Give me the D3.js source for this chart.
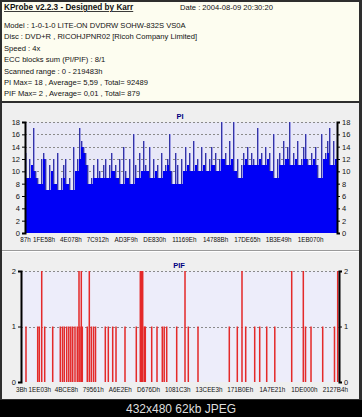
<!DOCTYPE html>
<html>
<head>
<meta charset="utf-8">
<script src="https://cdn.jsdelivr.net/npm/d3@7"></script>
<style>
  body { margin: 0; background: #000; }
  svg { display: block; font-family: "Liberation Sans", Arial, sans-serif; }
</style>
</head>
<body>
<div id="chart"></div>
<script>
// ---- data ----
const infoTitle = 'KProbe v2.2.3 - Designed by Karr';
const infoDate = 'Date : 2004-08-09 20:30:20';
const infoLines = [
  'Model : 1-0-1-0 LITE-ON DVDRW SOHW-832S  VS0A',
  'Disc : DVD+R , RICOHJPNR02 [Ricoh Company Limited]',
  'Speed : 4x',
  'ECC blocks sum (PI/PIF) : 8/1',
  'Scanned range : 0 - 219483h',
  'PI Max= 18 , Average= 5,59 , Total= 92489',
  'PIF Max= 2 , Average= 0,01 , Total= 879'
];
const footerText = '432x480 62kb JPEG';

const scanEnd = 0x219483;
const piTickLabels = ['87h', '1FE58h', '4E078h', '7C912h', 'AD3F9h', 'DE830h', '11169Eh', '14788Bh', '17DE65h', '1B3E49h', '1EB070h'];
const pifTickLabels = ['3Bh', '1EE03h', '4BCE8h', '79561h', 'A6E2Eh', 'D676Dh', '1081C3h', '13CEE3h', '171B0Eh', '1A7E21h', '1DE000h', '2127B4h'];
const piYTicks = [0, 2, 4, 6, 8, 10, 12, 14, 16, 18];
const pifYTicks = [0, 1, 2];

// PI per sample, evenly spread over the scanned range
const piValues = [
  13, 9, 12, 11, 17, 10, 9, 8, 12, 13,
  12, 7, 11, 10, 12, 8, 13, 7, 9, 11,
  12, 8, 9, 7, 14, 10, 12, 17, 15, 14,
  13, 11, 8, 9, 11, 9, 12, 10, 9, 11,
  12, 9, 11, 13, 10, 11, 9, 12, 8, 14,
  10, 9, 12, 8, 16, 11, 9, 13, 10, 15,
  11, 10, 14, 9, 12, 10, 11, 9, 13, 10,
  11, 12, 16, 10, 8, 13, 11, 8, 12, 10,
  14, 11, 13, 10, 15, 11, 12, 10, 14, 11,
  13, 10, 12, 14, 11, 13, 10, 12, 18, 12,
  13, 11, 15, 12, 18, 10, 12, 9, 11, 13,
  12, 14, 11, 13, 12, 11, 17, 12, 13, 11,
  14, 12, 13, 10, 16, 9, 12, 13, 11, 15,
  12, 14, 18, 11, 13, 12, 15, 11, 12, 14,
  16, 12, 11, 13, 12, 14, 11, 9, 16, 12,
  13, 15, 17, 11, 15, 12
];

// PIF events: LBA and count
const pifLba = [
  34600, 115600, 126600, 143300, 164000, 219400, 272000, 287200, 299700, 316300,
  330800, 344600, 357800, 373700, 389600, 401400, 408300, 417300, 424200, 458800,
  472700, 486500, 501700, 515600, 583400, 604200, 634600, 657500, 719700, 797900,
  825600, 833900, 842200, 853300, 860200, 904500, 941200, 977900, 991000, 1008300,
  1077500, 1135000, 1157800, 1224900, 1441500, 1496900, 1529400, 1555000, 1617300, 1651900,
  1700400, 1756400, 1873400, 1953700, 1968900, 2007000, 2087900, 2169500, 2191700
];
const pifValues = [
  1, 1, 1, 2, 1, 1, 1, 1, 1, 1,
  1, 1, 1, 1, 1, 2, 1, 2, 1, 1,
  2, 1, 1, 1, 1, 1, 1, 1, 1, 1,
  2, 2, 2, 1, 1, 1, 1, 1, 1, 1,
  1, 2, 1, 1, 1, 1, 2, 1, 1, 1,
  1, 1, 2, 2, 1, 1, 1, 1, 2
];

// ---- drawing ----
const width = 362;
const height = 417;
const labelFont = '"Liberation Sans", Arial, sans-serif';

const svg = d3.select('#chart').append('svg')
  .attr('width', width)
  .attr('height', height);

// frame + panels
svg.append('rect').attr('width', width).attr('height', 400).attr('fill', '#2e2e2e');
svg.append('rect').attr('x', 2).attr('y', 2).attr('width', 357).attr('height', 99).attr('fill', '#fdfdf0');
svg.append('rect').attr('x', 2).attr('y', 103).attr('width', 357).attr('height', 296).attr('fill', '#efefef');
svg.append('line').attr('x1', 2).attr('x2', 359).attr('y1', 250.5).attr('y2', 250.5).attr('stroke', '#9a9a9a');
svg.append('line').attr('x1', 2).attr('x2', 359).attr('y1', 251.5).attr('y2', 251.5).attr('stroke', '#ffffff');

// header text
const header = svg.append('g').attr('fill', '#111').style('font-size', '7.6px');
header.append('text').attr('x', 4).attr('y', 10)
  .style('font-weight', 'bold').style('text-decoration', 'underline')
  .style('font-size', '8.2px')
  .text(infoTitle);
header.append('text').attr('x', 180).attr('y', 10).text(infoDate);
header.selectAll('.info').data(infoLines).enter().append('text')
  .attr('class', 'info')
  .attr('x', 4)
  .attr('y', (d, i) => 28 + i * 11.4)
  .text(d => d);

// footer
svg.append('rect').attr('y', 400).attr('width', width).attr('height', 17).attr('fill', '#000');
svg.append('text').attr('x', 181).attr('y', 413)
  .attr('text-anchor', 'middle').attr('fill', '#dedede')
  .style('font-size', '12px')
  .text(footerText);

function drawPanel(opts) {
  const x = d3.scaleLinear().domain([0, scanEnd]).range([opts.left, opts.right]);
  const y = d3.scaleLinear().domain([0, opts.max]).range([opts.bottom, opts.top]);
  const g = svg.append('g');

  g.append('rect')
    .attr('x', opts.left).attr('y', opts.top)
    .attr('width', opts.right - opts.left).attr('height', opts.bottom - opts.top)
    .attr('fill', opts.plotBg);

  g.append('text')
    .attr('x', (opts.left + opts.right) / 2 - 1).attr('y', opts.top - 3)
    .attr('text-anchor', 'middle')
    .attr('fill', '#000080')
    .style('font-size', '7.5px').style('font-weight', 'bold')
    .text(opts.title);

  // grid
  g.selectAll('.grid').data(opts.yTicks.filter(d => d > 0)).enter().append('line')
    .attr('x1', opts.left).attr('x2', opts.right)
    .attr('y1', d => Math.round(y(d)) + 0.5).attr('y2', d => Math.round(y(d)) + 0.5)
    .attr('stroke', '#8a8a8a').attr('stroke-dasharray', '2,2');

  opts.marks(g, x, y);

  // axes
  const left = g.append('g').attr('transform', 'translate(' + opts.left + ',0)')
    .call(d3.axisLeft(y).tickValues(opts.yTicks).tickFormat(d3.format('d')).tickSize(3).tickPadding(2));
  const right = g.append('g').attr('transform', 'translate(' + opts.right + ',0)')
    .call(d3.axisRight(y).tickValues(opts.yTicks).tickFormat(d3.format('d')).tickSize(3).tickPadding(2));
  [left, right].forEach(a => {
    a.select('.domain').attr('stroke', '#000').attr('stroke-width', 2);
    a.selectAll('.tick line').attr('stroke', '#000');
    a.selectAll('text').attr('fill', '#111').style('font-size', '7.5px').style('font-family', labelFont);
  });

  const bottom = g.append('g').attr('transform', 'translate(0,' + opts.bottom + ')')
    .call(d3.axisBottom(x)
      .tickValues(opts.xLabels.map(s => parseInt(s, 16)))
      .tickFormat(d => d.toString(16).toUpperCase() + 'h')
      .tickSize(0).tickPadding(opts.xPad));
  bottom.select('.domain').remove();
  bottom.selectAll('text').attr('fill', '#111').style('font-size', '6.3px').style('font-family', labelFont);
}

// PI chart
drawPanel({
  title: 'PI', left: 25, right: 337, top: 122, bottom: 233, max: 18,
  yTicks: piYTicks, xLabels: piTickLabels, xPad: 5, plotBg: '#e8e8f7',
  marks: function(g, x, y) {
    const step = scanEnd / piValues.length;
    const bw = x(step) - x(0);
    const floor = (d, i) => Math.min(d, piValues[i - 1] ?? d, piValues[i + 1] ?? d);
    const bars = g.append('g').attr('shape-rendering', 'crispEdges');
    // spikes
    bars.selectAll('.spike').data(piValues).enter().append('rect')
      .attr('x', (d, i) => x(i * step)).attr('width', bw)
      .attr('y', d => y(d)).attr('height', d => y(0) - y(d))
      .attr('fill', '#9d9de4');
    bars.selectAll('.edge').data(piValues).enter().append('rect')
      .attr('x', (d, i) => x(i * step)).attr('width', 1)
      .attr('y', d => y(d)).attr('height', d => y(0) - y(d))
      .attr('fill', '#3434a6');
    // solid body under neighbouring samples
    bars.selectAll('.body').data(piValues).enter().append('rect')
      .attr('x', (d, i) => x(i * step)).attr('width', bw)
      .attr('y', (d, i) => y(floor(d, i)))
      .attr('height', (d, i) => y(0) - y(floor(d, i)))
      .attr('fill', '#0000f6');
  }
});

// PIF chart
drawPanel({
  title: 'PIF', left: 21, right: 339, top: 271, bottom: 382, max: 2,
  yTicks: pifYTicks, xLabels: pifTickLabels, xPad: 6, plotBg: '#ededfa',
  marks: function(g, x, y) {
    const w = x(scanEnd / 210) - x(0);
    g.append('g').selectAll('rect').data(pifLba).enter().append('rect')
      .attr('x', d => x(d) - w / 2).attr('width', w)
      .attr('y', (d, i) => y(pifValues[i]))
      .attr('height', (d, i) => y(0) - y(pifValues[i]))
      .attr('fill', '#e42a2a');
  }
});
</script>
</body>
</html>
